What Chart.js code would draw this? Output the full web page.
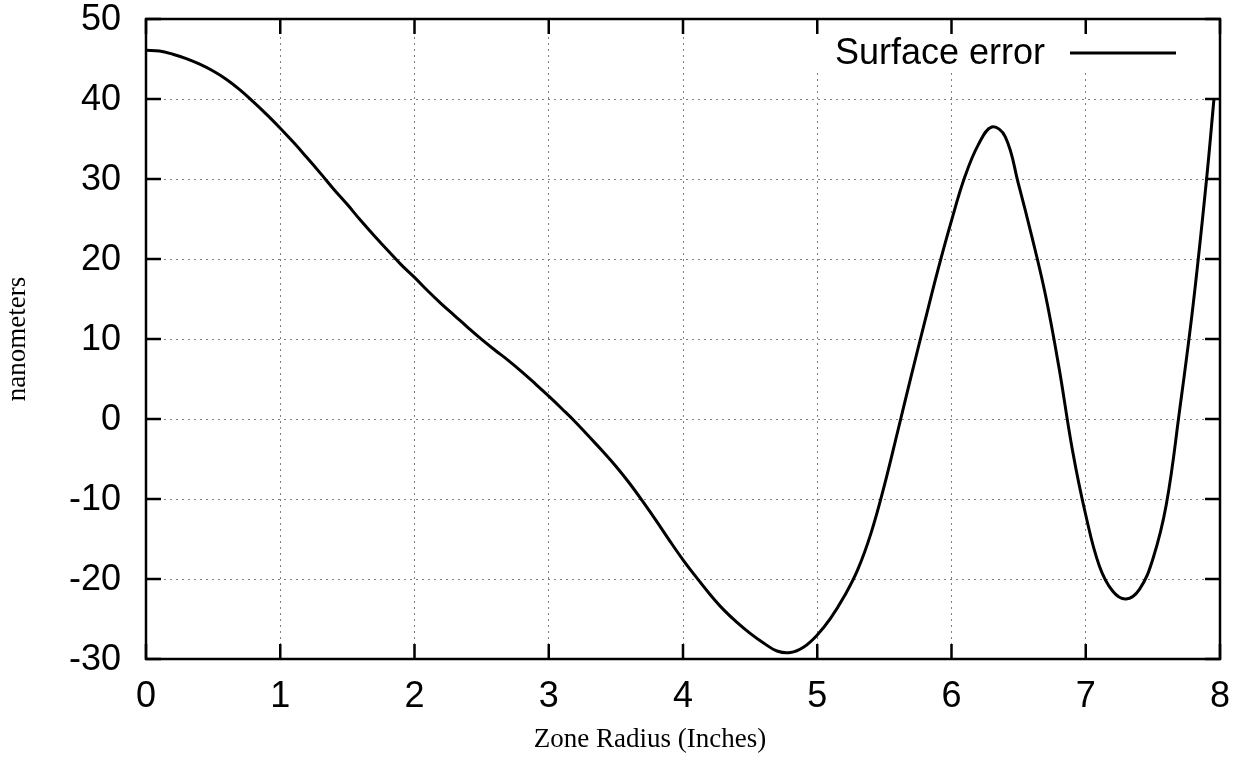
<!DOCTYPE html>
<html>
<head>
<meta charset="utf-8">
<title>Surface error</title>
<script src="https://cdn.jsdelivr.net/npm/chart.js@4"></script>
<style>
  html, body { margin: 0; padding: 0; background: #fff; }
  #wrap { width: 1243px; height: 769px; }
</style>
</head>
<body>
<div id="wrap"><canvas id="chart" width="1243" height="769"></canvas></div>
<script>
// ======================= DATA =========================
const zoneRadius = [
  0.0, 0.1, 0.2, 0.3, 0.4, 0.5, 0.6, 0.7, 0.8, 0.9,
  1.0, 1.1, 1.2, 1.3, 1.4, 1.5, 1.6, 1.7, 1.8, 1.9,
  2.0, 2.1, 2.2, 2.3, 2.4, 2.5, 2.6, 2.7, 2.8, 2.9,
  3.0, 3.1, 3.2, 3.3, 3.4, 3.5, 3.6, 3.7, 3.8, 3.9,
  4.0, 4.1, 4.2, 4.3, 4.4, 4.5, 4.6, 4.7, 4.8, 4.9,
  5.0, 5.1, 5.2, 5.3, 5.4, 5.5, 5.6, 5.7, 5.8, 5.9,
  6.0, 6.1, 6.2, 6.3, 6.4, 6.5, 6.6, 6.7, 6.8, 6.9,
  7.0, 7.1, 7.2, 7.3, 7.4, 7.5, 7.6, 7.7, 7.8, 7.9, 7.955
];
const surfaceError = [
  46.1, 46.0, 45.6, 45.05, 44.35, 43.5, 42.45, 41.15, 39.65, 38.05,
  36.35, 34.55, 32.65, 30.7, 28.7, 26.8, 24.8, 22.9, 21.1, 19.3,
  17.7, 16.0, 14.4, 12.9, 11.4, 9.95, 8.6, 7.3, 5.9, 4.4,
  2.85, 1.25, -0.4, -2.2, -4.0, -5.9, -8.0, -10.3, -12.7, -15.2,
  -17.6, -19.8, -21.9, -23.8, -25.4, -26.8, -28.0, -29.0, -29.2, -28.5,
  -27.0, -24.9, -22.2, -18.9, -14.3, -8.3, -1.5, 5.4, 12.1, 18.7,
  24.8, 30.3, 34.3, 36.5, 35.3, 29.3, 22.7, 15.5, 6.5, -3.8,
  -12.0, -18.3, -21.5, -22.5, -21.3, -17.5, -10.7, 1.2, 14.3, 30.0, 40.0
];
const xTicks = [0, 1, 2, 3, 4, 5, 6, 7, 8];
const yTicks = [-30, -20, -10, 0, 10, 20, 30, 40, 50];

const seriesLabel = "Surface error";
const xTitle = "Zone Radius (Inches)";
const yTitle = "nanometers";

// ======================= PLUGIN =========================
// frame, inward ticks on all sides, tick labels, legend (text then line), axis titles
const sansFont = "36px 'Liberation Sans', Arial, sans-serif";
const serifFont = "27px 'Liberation Serif', 'Times New Roman', serif";

const gnuplotLook = {
  id: "gnuplotLook",
  beforeDatasetsDraw(chart) {
    const { ctx, chartArea: a } = chart;
    ctx.save();
    ctx.fillStyle = "#fff";
    ctx.fillRect(a.right - 410, a.top + 4, 395, 50);
    ctx.restore();
  },
  afterDraw(chart) {
    const { ctx, chartArea: a, scales } = chart;
    const tl = 15;
    ctx.save();
    ctx.strokeStyle = "#000";
    ctx.lineWidth = 2.5;
    ctx.lineCap = "butt";

    ctx.beginPath();
    xTicks.forEach(v => {
      const x = scales.x.getPixelForValue(v);
      ctx.moveTo(x, a.bottom); ctx.lineTo(x, a.bottom - tl);
      ctx.moveTo(x, a.top); ctx.lineTo(x, a.top + tl);
    });
    yTicks.forEach(v => {
      const y = scales.y.getPixelForValue(v);
      ctx.moveTo(a.left, y); ctx.lineTo(a.left + tl, y);
      ctx.moveTo(a.right, y); ctx.lineTo(a.right - tl, y);
    });
    ctx.stroke();
    ctx.strokeRect(a.left, a.top, a.right - a.left, a.bottom - a.top);

    // tick labels
    ctx.fillStyle = "#000";
    ctx.font = sansFont;
    ctx.textBaseline = "middle";
    ctx.textAlign = "right";
    yTicks.forEach(v => ctx.fillText(String(v), a.left - 25, scales.y.getPixelForValue(v) + 1));
    ctx.textAlign = "center";
    xTicks.forEach(v => ctx.fillText(String(v), scales.x.getPixelForValue(v), a.bottom + 38));

    // legend
    ctx.textAlign = "right";
    ctx.fillText(seriesLabel, a.right - 175, a.top + 35);
    ctx.lineWidth = 3;
    ctx.beginPath();
    ctx.moveTo(a.right - 150, a.top + 34);
    ctx.lineTo(a.right - 44, a.top + 34);
    ctx.stroke();

    // axis titles
    ctx.font = serifFont;
    ctx.textAlign = "center";
    ctx.fillText(xTitle, 650, 740);
    ctx.translate(18, (a.top + a.bottom) / 2);
    ctx.rotate(-Math.PI / 2);
    ctx.fillText(yTitle, 0, 0);
    ctx.restore();
  }
};

// ======================= CHART =========================
const points = zoneRadius.map((x, i) => ({ x, y: surfaceError[i] }));
const gridCfg = { color: "#808080", lineWidth: 1, drawTicks: false };

new Chart(document.getElementById("chart"), {
  type: "line",
  data: {
    datasets: [{
      label: seriesLabel,
      data: points,
      borderColor: "#000",
      borderWidth: 3,
      pointRadius: 0,
      fill: false,
      tension: 0.4
    }]
  },
  options: {
    responsive: false,
    animation: false,
    layout: { padding: { top: 19, right: 23, left: 0, bottom: 0 } },
    plugins: { legend: { display: false }, tooltip: { enabled: false } },
    scales: {
      x: {
        type: "linear", min: 0, max: 8,
        afterBuildTicks: s => { s.ticks = xTicks.map(v => ({ value: v })); },
        afterFit: s => { s.height = 110; },
        grid: gridCfg,
        border: { display: false, dash: [2, 4] },
        ticks: { display: false }
      },
      y: {
        type: "linear", min: -30, max: 50,
        afterBuildTicks: s => { s.ticks = yTicks.map(v => ({ value: v })); },
        afterFit: s => { s.width = 146; },
        grid: gridCfg,
        border: { display: false, dash: [2, 4] },
        ticks: { display: false }
      }
    }
  },
  plugins: [gnuplotLook]
});
</script>
</body>
</html>
